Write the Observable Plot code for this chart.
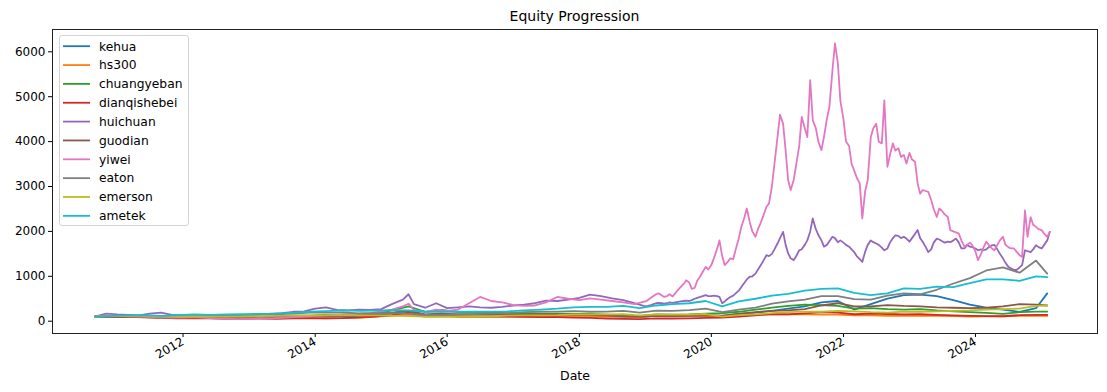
<!DOCTYPE html>
<html><head><meta charset="utf-8">
<script src="https://cdn.jsdelivr.net/npm/d3@7"></script>
<script src="https://cdn.jsdelivr.net/npm/@observablehq/plot@0.6"></script>
<style>
body{margin:0;background:#fff;font-family:"DejaVu Sans",sans-serif;}
#wrap{position:relative;width:1107px;height:392px;overflow:hidden;}
#title{position:absolute;left:52px;width:1045px;top:8px;line-height:17px;text-align:center;font-size:14px;color:#000;}
#chart{position:absolute;left:0;top:24px;}
#legend{position:absolute;left:59px;top:35px;width:130px;height:191px;border:1px solid #d4d4d4;border-radius:3px;background:rgba(255,255,255,0.8);box-sizing:border-box;}
#legend svg{position:absolute;left:0;top:0;}
</style></head>
<body><div id="wrap"><div id="title">Equity Progression</div><div id="chart"></div><div id="legend"></div></div>
<script>
const seriesNames = ["kehua","hs300","chuangyeban","dianqishebei","huichuan","guodian","yiwei","eaton","emerson","ametek"];
const palette = ["#1f77b4","#ff7f0e","#2ca02c","#d62728","#9467bd","#8c564b","#e377c2","#7f7f7f","#bcbd22","#17becf"];
const yTicks = [0,1000,2000,3000,4000,5000,6000];
const xTickLabels = ["2012","2014","2016","2018","2020","2022","2024"];

// quarterly observation dates (small series)
const quarterDates = ["2010-09","2010-12"];
for (let y = 2011; y <= 2024; y++) for (const m of ["03","06","09","12"]) quarterDates.push(`${y}-${m}`);
quarterDates.push("2025-02");

// dates for huichuan / yiwei: bimonthly to 2018, then semi-monthly
const fineDates = ["2010-09","2010-11"];
for (let y = 2011; y <= 2018; y++) for (const m of ["01","03","05","07","09","11"]) {
  fineDates.push(`${y}-${m}`);
  if (y === 2015 && m === "05") fineDates.push("2015-06");
}
for (let y = 2019; y <= 2025; y++) for (let m = 1; m <= 12; m++) {
  if (y === 2025 && m > 2) break;
  const mm = String(m).padStart(2,"0");
  fineDates.push(`${y}-${mm}-01`, `${y}-${mm}-15`);
}

const kehua = [100,110, 105,95,85,80, 85,80,70,70, 85,90,100,95, 110,105,120,130, 180,230,140,170, 140,150,145,140, 135,130,135,130, 125,115,100,90, 120,115,120,130, 120,160,190,230, 280,330,420,450, 260,380,505,580, 590,560,470,370, 300,260,210,290, 620];
const hs300 = [100,105, 100,95,85,78, 80,78,70,75, 80,68,72,72, 65,68,75,105, 120,145,100,110, 95,95,100,100, 105,110,120,125, 120,110,105,95, 120,115,120,125, 115,125,140,155, 150,155,145,145, 130,130,120,120, 125,118,115,105, 108,108,120,118, 118];
const chuangyeban = [100,115, 100,90,80,70, 75,75,62,65, 80,100,125,125, 140,145,160,165, 240,330,210,250, 200,200,190,180, 175,165,170,160, 160,145,125,115, 150,145,150,170, 180,210,260,300, 340,370,360,340, 280,290,270,260, 270,240,220,200, 185,165,200,215, 215];
const dianqishebei = [100,105, 95,85,75,65, 70,65,55,55, 60,55,65,62, 65,70,85,100, 140,190,120,140, 110,110,105,100, 95,90,90,80, 75,60,50,45, 65,60,62,75, 80,100,130,160, 150,175,200,190, 155,170,160,150, 155,140,130,120, 115,110,135,140, 140];
const guodian = [100,110, 105,100,90,85, 90,90,80,80, 95,100,115,110, 120,125,140,155, 190,230,150,170, 150,150,145,140, 145,150,150,145, 140,125,110,100, 120,115,120,130, 125,160,200,230, 240,270,350,400, 330,330,360,340, 330,310,300,290, 300,330,380,370, 350];
const eaton = [100,115, 125,120,100,115, 125,115,125,130, 145,150,170,190, 190,195,175,180, 180,170,140,140, 155,160,175,180, 200,210,215,225, 210,215,230,190, 235,230,245,280, 200,260,300,390, 440,480,560,560, 490,480,570,620, 600,700,840,960, 1130,1200,1080,1350, 1060];
const emerson = [100,115, 120,115,100,105, 110,105,100,105, 115,120,125,130, 130,135,130,130, 125,115,100,100, 105,110,110,125, 130,130,135,150, 150,150,155,130, 150,145,145,160, 100,135,150,180, 200,215,210,230, 220,200,190,215, 210,220,230,240, 260,270,280,340, 350];
const ametek = [100,120, 130,135,120,135, 150,140,150,155, 165,170,185,210, 225,240,230,235, 245,240,210,215, 210,210,215,220, 240,260,280,310, 320,320,340,290, 350,380,400,450, 330,440,500,570, 610,680,720,730, 630,580,620,730, 720,770,760,850, 930,930,900,1000, 980];

const huichuan = [
  100,170,
  150,140,130,170,190,140,
  130,120,125,110,100,110,
  130,150,170,180,210,220,
  280,310,250,240,260,250,
  270,380,480,600,380,300,400,
  290,310,330,310,300,320,
  350,370,400,460,450,480,
  520,590,560,510,470,400,
  // 2019
  330,340,360,380,400,410,400,390,400,420,410,420,430,440,450,460,450,470,500,520,540,560,580,560,
  560,570,560,540,400,440,500,540,570,620,680,760,850,930,990,1000,1060,1150,1250,1350,1470,1450,1500,1600,
  1730,1850,1990,1700,1510,1400,1360,1450,1580,1600,1700,1800,2000,2290,2050,1920,1800,1660,1700,1780,1880,1850,1760,1800,
  1750,1700,1660,1600,1540,1450,1380,1320,1550,1700,1800,1760,1730,1700,1640,1580,1620,1750,1850,1910,1900,1850,1880,1840,
  1770,1850,1950,2030,1850,1770,1650,1540,1600,1750,1840,1820,1780,1750,1770,1760,1800,1840,1750,1620,1620,1700,1660,1650,
  1620,1580,1600,1580,1600,1650,1690,1700,1600,1500,1400,1300,1210,1180,1140,1140,1200,1250,1580,1560,1540,1600,1690,1650,
  1620,1700,1800,1990];
const yiwei = [
  100,130,
  120,110,100,95,80,85,
  80,90,75,60,55,45,
  55,70,65,75,90,100,
  120,130,140,150,170,180,
  220,260,330,390,250,200,260,
  230,260,400,540,450,420,
  360,340,350,420,540,500,
  470,510,480,450,420,380,
  // 2019
  440,470,520,560,600,620,580,540,560,600,550,620,700,760,830,910,860,720,740,900,1000,1100,1210,1150,
  1250,1400,1600,1800,1450,1250,1320,1400,1380,1600,1850,2100,2300,2510,2200,2000,1880,2050,2200,2350,2550,2620,3000,3500,
  4100,4600,4400,3800,3140,2920,3150,3500,3900,4550,4300,4100,5370,4480,4300,4000,3810,4100,4500,4770,5590,6190,5740,4900,
  4500,4000,3900,3500,3360,3200,3070,2290,2900,3140,4100,4300,4400,4000,3960,4920,3440,3700,3960,3800,3850,3660,3700,3510,
  3750,3600,3550,3070,2840,2920,2900,2880,2700,2500,2320,2510,2450,2380,2320,2030,2000,1980,1950,1800,1660,1700,1750,1690,
  1550,1360,1500,1650,1770,1700,1620,1580,1700,1800,1880,1700,1650,1620,1620,1550,1470,1430,2470,1880,2320,2150,2100,2050,
  2030,1950,1880,1990];

const seriesData = {kehua, hs300, chuangyeban, dianqishebei, huichuan, guodian, yiwei, eaton, emerson, ametek};
const rows = [];
for (const name of seriesNames) {
  const vals = seriesData[name];
  const dates = (name === "huichuan" || name === "yiwei") ? fineDates : quarterDates;
  vals.forEach((v, i) => { if (i < dates.length) rows.push({series: name, date: new Date(dates[i]), value: v}); });
}

const xTicks = xTickLabels.map(s => new Date(s + "-01-01"));
const chart = Plot.plot({
  width: 1107, height: 368,
  marginLeft: 52, marginRight: 10, marginTop: 5, marginBottom: 59,
  style: {fontFamily: "DejaVu Sans, sans-serif", fontSize: "12px", color: "#000", background: "white", overflow: "visible"},
  x: {type: "utc", domain: [new Date("2010-01-09"), new Date("2025-11-06")]},
  y: {domain: [-274, 6497]},
  color: {domain: seriesNames, range: palette},
  marks: [
    Plot.axisY({ticks: yTicks, tickSize: 4, tickPadding: 3, label: null, tickFormat: d => String(d)}),
    Plot.axisX({ticks: xTicks, tickFormat: d3.utcFormat("%Y"), tickRotate: -30, tickSize: 4, tickPadding: 3, label: null}),
    Plot.line(rows, {x: "date", y: "value", z: "series", stroke: "series", strokeWidth: 1.8, strokeLinejoin: "round"}),
    Plot.frame({stroke: "#222", strokeWidth: 1}),
    Plot.text(["Date"], {frameAnchor: "bottom", dy: 46, fontSize: 12.5})
  ]
});
document.getElementById("chart").appendChild(chart);

// legend
const leg = d3.select("#legend").append("svg").attr("width", 128).attr("height", 189)
  .style("font-family", "DejaVu Sans, sans-serif").style("font-size", "12.3px");
seriesNames.forEach((name, i) => {
  const cy = 10.2 + i * 18.85;
  leg.append("line").attr("x1", 3).attr("x2", 30).attr("y1", cy).attr("y2", cy)
    .attr("stroke", palette[i]).attr("stroke-width", 1.8);
  leg.append("text").attr("x", 39).attr("y", cy).attr("dy", "0.35em").attr("fill", "#000").text(name);
});
</script></body></html>
